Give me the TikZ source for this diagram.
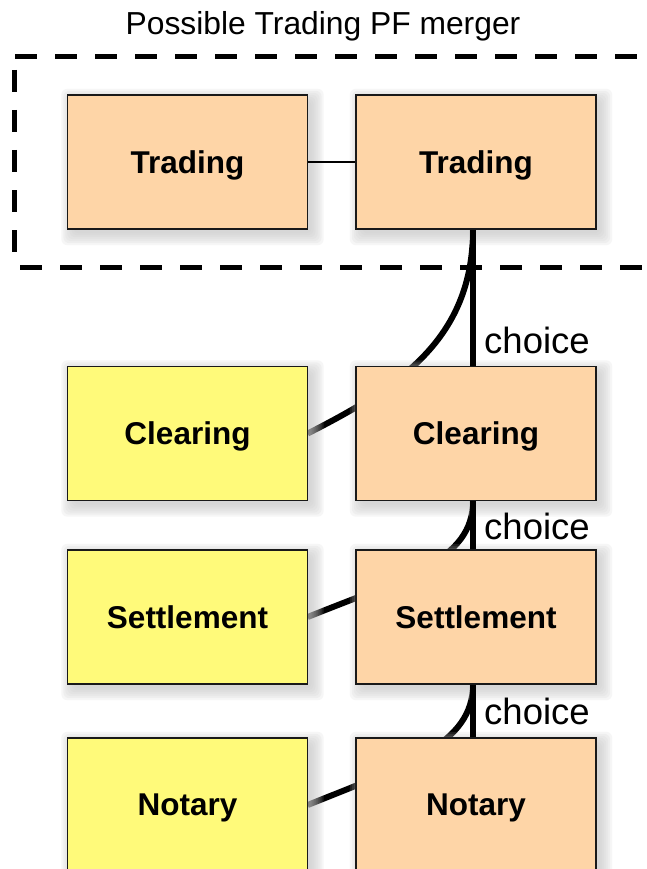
\documentclass[tikz,border=0pt]{standalone}
\usepackage{fontspec}
\setmainfont{Liberation Sans}
\definecolor{peach}{RGB}{254,213,167}
\definecolor{lemon}{RGB}{255,250,122}
\tikzset{
  box/.style={draw=black!90, line width=1.6pt, minimum width=240pt, minimum height=134pt,
    inner sep=0pt, text depth=0pt, font=\fontsize{31.5}{36}\selectfont\bfseries},
  slot/.style={minimum width=240pt, minimum height=134pt, inner sep=0pt},
  pbox/.style={box, fill=peach},
  ybox/.style={box, fill=lemon},
  shadowlayer/.style={fill=black!22, opacity=0.15},
  link/.style={line width=6pt},
  thinlink/.style={line width=1.5pt},
  lbl/.style={font=\fontsize{36.5}{40}\selectfont, anchor=base west, inner sep=0pt},
  title/.style={font=\fontsize{31.8}{36}\selectfont, anchor=base, inner sep=0pt},
  merge/.style={line width=5pt, dash pattern=on 22pt off 18pt},
}
\begin{document}
\begin{tikzpicture}[x=1pt,y=-1pt]
\clip (0,0) rectangle (646,869);
\fill[white] (0,0) rectangle (646,869);

% merger frame
\coordinate (f1) at (15,56.5);
\coordinate (f2) at (700,56.5);
\coordinate (f3) at (14.5,70);
\coordinate (f4) at (14.5,266);
\coordinate (f5) at (20,267);
\coordinate (f6) at (700,267);
\draw[merge] (f1) -- (f2);
\draw[merge] (f3) -- (f4);
\draw[merge] (f5) -- (f6);
\node[title] (t) at (323,35) {Possible Trading PF merger};

% node slots
\node[slot] (tl) at (187.5,162) {};
\node[slot] (tr) at (476,162) {};
\node[slot] (cl) at (187.5,433.5) {};
\node[slot] (cr) at (476,433.5) {};
\node[slot] (sl) at (187.5,617) {};
\node[slot] (sr) at (476,617) {};
\node[slot] (nl) at (187.5,805) {};
\node[slot] (nr) at (476,805) {};

% crossing curves (under the boxes and their shadows)
\draw[link] ([xshift=-3pt]tr.south) .. controls +(0,112) and +(88,-45) .. (cl.east);
\draw[link] ([xshift=-3pt]cr.south) .. controls +(0,60) and +(99,-40) .. (sl.east);
\draw[link] ([xshift=-3pt]sr.south) .. controls +(0,60) and +(99,-40) .. (nl.east);

% soft shadows
\foreach \n in {tl,tr,cl,cr,sl,sr,nl,nr}{
  \foreach \e in {11,9,7,5,3,1,-1}{
    \fill[shadowlayer, rounded corners=6pt]
      ([xshift={5-\e}, yshift={-5-\e}]\n.south west) rectangle
      ([xshift={5+\e}, yshift={-5+\e}]\n.north east);
  }
}

% boxes
\node[pbox] (TL) at (tl) {Trading};
\node[pbox] (TR) at (tr) {Trading};
\node[ybox] (CL) at (cl) {Clearing};
\node[pbox] (CR) at (cr) {Clearing};
\node[ybox] (SL) at (sl) {Settlement};
\node[pbox] (SR) at (sr) {Settlement};
\node[ybox] (NL) at (nl) {Notary};
\node[pbox] (NR) at (nr) {Notary};

% straight links
\draw[thinlink] (TL.east) -- (TR.west);
\draw[link] ([xshift=-3pt]TR.south) -- ([xshift=-3pt]CR.north);
\draw[link] ([xshift=-3pt]CR.south) -- ([xshift=-3pt]SR.north);
\draw[link] ([xshift=-3pt]SR.south) -- ([xshift=-3pt]NR.north);

% labels
\node[lbl] (c1) at ([xshift=8pt,yshift=12pt]CR.north) {choice};
\node[lbl] (c2) at ([xshift=8pt,yshift=10pt]SR.north) {choice};
\node[lbl] (c3) at ([xshift=8pt,yshift=13pt]NR.north) {choice};
\end{tikzpicture}
\end{document}
